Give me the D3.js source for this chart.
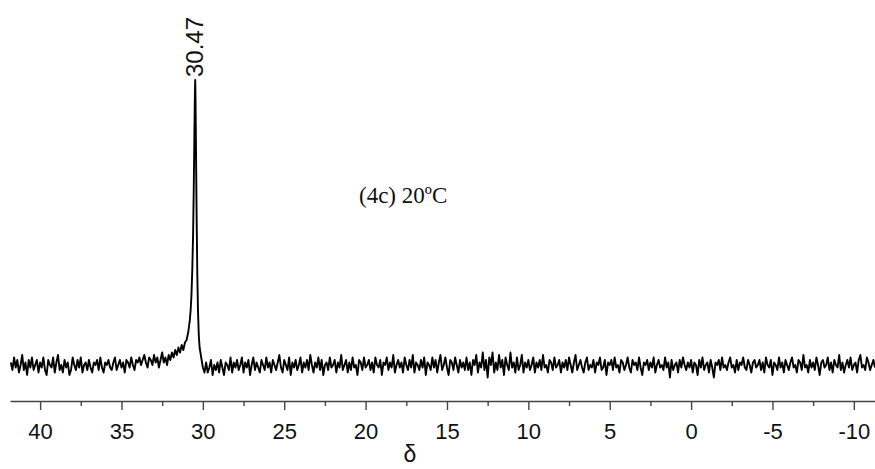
<!DOCTYPE html>
<html>
<head>
<meta charset="utf-8">
<script src="https://cdn.jsdelivr.net/npm/d3@7"></script>
<style>
  body { margin: 0; background: #fff; }
  svg { display: block; }
</style>
</head>
<body>
<svg></svg>
<script>
// spectrum baseline, sampled every 0.1 ppm starting at 41.8 ppm
var ppmStart = 41.8, ppmStep = 0.1;
var noise = [
    1,-2,3,-1,2,-3,0,4,-2,1,-4,2,-1,3,-2,0,2,-3,1,-1,
    3,-2,-4,2,0,-1,3,-3,1,4,-2,0,-3,2,-1,1,-4,-2,3,0,
    -2,2,-1,3,-3,0,1,-2,2,-1,-3,1,0,2,-2,3,-1,-3,1,0,
    2,-1,-2,1,3,-2,0,2,-1,1,-3,2,1,-1,3,0,-2,2,1,3,
    0,2,4,1,-1,3,2,0,4,1,3,-1,2,5,1,3,0,4,2,5,
    3,6,4,7,5,8,6,9,10,13,18,0,0,0,0,0,0,3,-1,-3,
    1,-3,-1,2,-4,0,-2,1,-3,2,-1,-4,1,0,-2,3,-3,1,-1,2,
    -2,0,3,-3,1,-1,2,-4,0,3,-2,1,-1,-3,2,0,-2,3,-1,1,
    -3,2,0,-2,1,4,-1,-3,2,0,-2,3,-4,1,-1,2,-2,0,3,-3,
    1,-1,2,-2,4,0,-3,1,-1,3,-2,2,-4,0,1,-2,3,-1,0,2,
    -3,1,-1,4,-2,0,2,-3,1,-2,3,-1,0,-4,2,1,-2,3,-1,0,
    2,-2,1,-3,3,0,-1,2,-4,1,0,3,-2,1,-1,4,-3,0,2,-1,
    1,-3,3,0,-2,2,-1,4,-3,1,0,-2,2,-1,3,-4,1,0,-2,3,
    -1,2,-3,1,4,-2,0,3,-1,-4,2,1,-2,3,0,-3,2,-1,1,-2,
    3,-2,1,-4,2,0,4,-3,1,-1,5,-2,2,-5,3,0,5,-3,1,-2,
    4,-1,2,-4,3,0,-2,5,-1,1,-3,3,-2,0,4,-3,1,-1,2,-2,
    0,3,-3,1,-1,2,-2,4,-1,0,-3,2,1,-2,3,-1,0,2,-3,1,
    -1,2,-2,3,0,-3,1,4,-2,0,2,-1,-3,1,3,-2,0,-1,2,-3,
    1,0,3,-2,-1,2,-4,1,0,2,-2,3,-1,0,-3,2,1,-2,0,3,
    -1,-3,2,0,1,-2,3,-1,-4,1,0,2,-2,1,-1,3,-3,0,2,-1,
    0,-2,3,-1,1,-5,2,-2,0,1,-3,2,-1,3,0,-2,1,-1,2,-3,
    1,0,-4,2,-1,3,-2,0,1,-3,2,-1,-5,1,0,2,-2,3,-1,0,
    -2,1,3,-1,0,-3,2,-2,1,0,3,-1,-2,2,0,-3,1,2,-1,0,
    2,-2,1,-3,3,0,-1,2,-4,1,0,-2,3,-1,1,-3,2,0,-2,1,
    3,-1,0,-3,2,1,-2,4,-1,0,-3,2,-1,1,-2,3,0,-4,1,2,
    -1,0,3,-2,1,-3,2,0,-1,4,-2,1,-3,0,2,-1,3,-2,0,1,
    -3,2,4,-1,0,-2,3,1,-2,0,2,-1
];

// the single resonance
var peakPpm = [30.75, 30.7, 30.65, 30.6, 30.56, 30.52, 30.49, 30.47, 30.45, 30.42, 30.38, 30.34, 30.3, 30.25, 30.2];
var peakInt = [22, 28, 38, 52, 70, 92, 108, 114, 106, 85, 58, 36, 22, 12, 7];
var peakLabel = "30.47";

var majorTicks = [40, 35, 30, 25, 20, 15, 10, 5, 0, -5, -10];
var minorTicks = [37.5, 32.5, 27.5, 22.5, 17.5, 12.5, 7.5, 2.5, -2.5, -7.5];
var xTitle = "δ";
var note = "(4c) 20ºC";

var svgWidth = 875, svgHeight = 469;

var svg = d3.select("svg")
    .attr("width", svgWidth)
    .attr("height", svgHeight);

// ppm axis runs right to left
var x = d3.scaleLinear()
    .domain([41.85, -11.3])
    .range([10, 875]);

var y = d3.scaleLinear()
    .domain([0, 114])
    .range([365, 80]);

var axisY = 401;

// merge baseline and peak points
var pts = noise.map(function(v, i) {
    return { p: ppmStart - ppmStep * i, v: v };
}).filter(function(d) {
    return !(d.p < 30.75 && d.p > 30.15);
});
peakPpm.forEach(function(p, i) { pts.push({ p: p, v: peakInt[i] }) });
pts.sort(function(a, b) { return b.p - a.p });

var line = d3.line()
    .x(function(d) { return x(d.p) })
    .y(function(d) { return y(d.v) });

svg.append("path")
    .datum(pts)
    .attr("fill", "none")
    .attr("stroke", "#000")
    .attr("stroke-width", 1.9)
    .attr("stroke-linejoin", "round")
    .attr("d", line);

// bottom axis
var gx = svg.append("g")
    .attr("transform", "translate(0," + axisY + ")")
    .call(d3.axisBottom(x)
        .tickValues(majorTicks)
        .tickSize(9)
        .tickSizeOuter(0)
        .tickPadding(13)
        .tickFormat(function(d) { return String(d) }));

gx.select(".domain").attr("stroke", "#444").attr("stroke-width", 1.4);
gx.selectAll(".tick line").attr("stroke", "#444").attr("stroke-width", 1.4);
gx.selectAll(".tick text")
    .attr("fill", "#111")
    .style("font-family", "Arial, 'Liberation Sans', sans-serif")
    .style("font-size", "22px");

svg.append("g")
    .attr("transform", "translate(0," + axisY + ")")
    .call(d3.axisBottom(x).tickValues(minorTicks).tickSize(5).tickFormat(""))
    .call(function(g) { g.select(".domain").remove() })
    .selectAll(".tick line").attr("stroke", "#444").attr("stroke-width", 1.4);

svg.append("text")
    .attr("x", 410)
    .attr("y", 462)
    .attr("text-anchor", "middle")
    .style("font-family", "Arial, 'Liberation Sans', sans-serif")
    .style("font-size", "23px")
    .attr("fill", "#111")
    .text(xTitle);

// peak label, rotated above the top
var peakX = x(+peakLabel);
svg.append("text")
    .attr("transform", "translate(" + (peakX - 1) + "," + (y(114) - 3) + ") rotate(-90)")
    .attr("text-anchor", "start")
    .attr("dominant-baseline", "central")
    .style("font-family", "Arial, 'Liberation Sans', sans-serif")
    .style("font-size", "24px")
    .attr("fill", "#111")
    .text(peakLabel);

svg.append("text")
    .attr("x", 359)
    .attr("y", 203)
    .style("font-family", "'Liberation Serif', 'Times New Roman', serif")
    .style("font-size", "23px")
    .attr("fill", "#111")
    .text(note);
</script>
</body>
</html>
